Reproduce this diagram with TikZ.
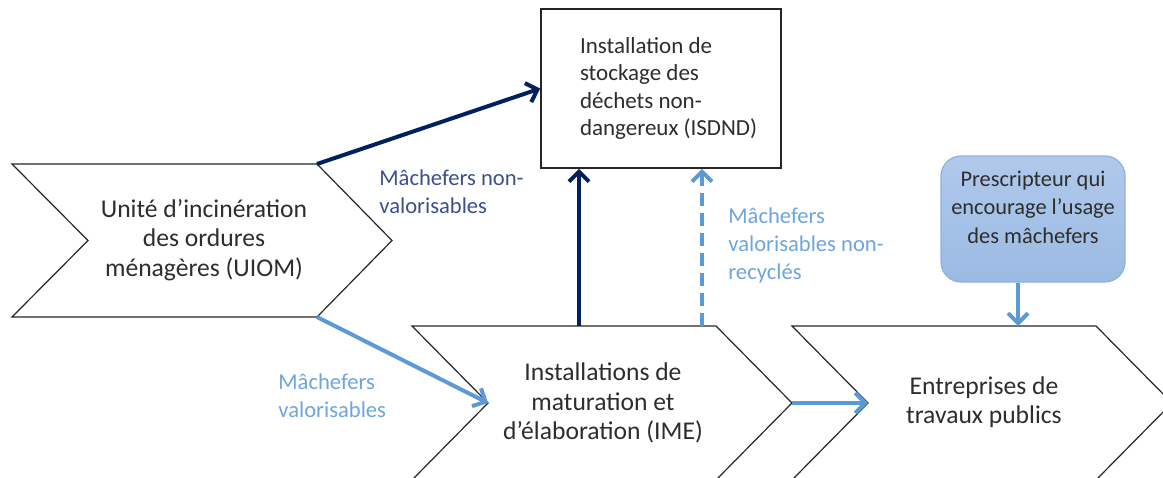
\documentclass[tikz,border=0pt]{standalone}
\usepackage{fontspec}
\setmainfont{Carlito}
\usepackage{xcolor}
\usepackage{tikz}
\usetikzlibrary{arrows.meta}
\definecolor{navy}{RGB}{0, 32, 96}
\definecolor{skyblue}{RGB}{91, 155, 213}
\definecolor{slateblue}{RGB}{59, 79, 142}
\definecolor{lightskyblue}{RGB}{110, 165, 222}
\definecolor{presctop}{RGB}{176, 201, 235}
\definecolor{prescbottom}{RGB}{155, 186, 227}
\definecolor{prescline}{RGB}{140, 178, 224}
\definecolor{textgray}{RGB}{45, 45, 45}

\begin{document}
\begin{tikzpicture}[
    x=0.5pt, y=-0.5pt,
    chevron/.style={draw=black!85, line width=0.6pt, line join=miter},
    stage/.style={text=textgray, align=center, font=\fontsize{12.8}{14.6}\selectfont},
    storebox/.style={rectangle, draw=black!85, line width=0.8pt, minimum width=120pt, minimum height=79.5pt, text width=81pt, align=flush left, text=textgray, font=\fontsize{11.5}{13.75}\selectfont},
    prescbox/.style={rectangle, rounded corners=10pt, draw=prescline, line width=0.6pt, top color=presctop, bottom color=prescbottom, minimum width=92pt, minimum height=63pt, align=center, text=textgray, text depth=12pt, font=\fontsize{11.2}{14.15}\selectfont},
    flowlabel/.style={anchor=west, align=left, inner sep=0pt, font=\fontsize{11.3}{14}\selectfont},
    darkarrow/.style={-{Straight Barb[length=5pt,width=10pt]}, navy, line width=2pt},
    lightarrow/.style={-{Straight Barb[length=5pt,width=10pt]}, skyblue, line width=2pt}
]
\useasboundingbox (0,0) rectangle (1163,477);

% chaine de traitement
\draw[chevron] (12,164) -- (317,164) coordinate (uiomNE) -- (392,240.5) -- (317,317) coordinate (uiomSE) -- (12,317) -- (88,240.5) -- cycle;
\draw[chevron] (412,326) -- (716,326) -- (792,403) coordinate (imeTip) -- (716,480) -- (412,480) -- (488,403) coordinate (imeNotch) -- cycle;
\draw[chevron] (792,326) -- (1096,326) -- (1172,403) -- (1096,480) -- (792,480) -- (868,403) coordinate (tpNotch) -- cycle;

\node[stage] (uiom) at (204,240) {Unité d’incinération\\des ordures\\ménagères (UIOM)};
\node[stage] (ime) at (603,403) {Installations de\\maturation et\\d’élaboration (IME)};
\node[stage] (tp) at (984,402) {Entreprises de\\travaux publics};

\node[storebox] (isdnd) at (661,88.5) {Installation de\\stockage des\\déchets non-\\\mbox{dangereux (ISDND)}};
\node[prescbox] (presc) at (1033,219) {Prescripteur qui\\encourage l’usage\\des mâchefers};

\coordinate (imeOut) at (579,326);
\coordinate (imeRest) at (702,326);
\coordinate (tpIn) at (1018,326);

% flux
\draw[darkarrow] (uiomNE) -- (isdnd.west);
\draw[darkarrow] (imeOut) -- (imeOut |- isdnd.south);
\draw[lightarrow, dash pattern=on 6.5pt off 3.5pt] (imeRest) -- (imeRest |- isdnd.south);
\draw[lightarrow] (uiomSE) -- (imeNotch);
\draw[lightarrow] (imeTip) -- (tpNotch);
\draw[lightarrow] (presc.south -| tpIn) -- (tpIn);

\node[flowlabel, text=slateblue] (nonvalo) at (379,192) {Mâchefers non-\\valorisables};
\node[flowlabel, text=lightskyblue] (valo) at (278,396) {Mâchefers\\valorisables};
\node[flowlabel, text=lightskyblue] (nonrecy) at (728,245) {Mâchefers\\valorisables non-\\recyclés};

\end{tikzpicture}
\end{document}
